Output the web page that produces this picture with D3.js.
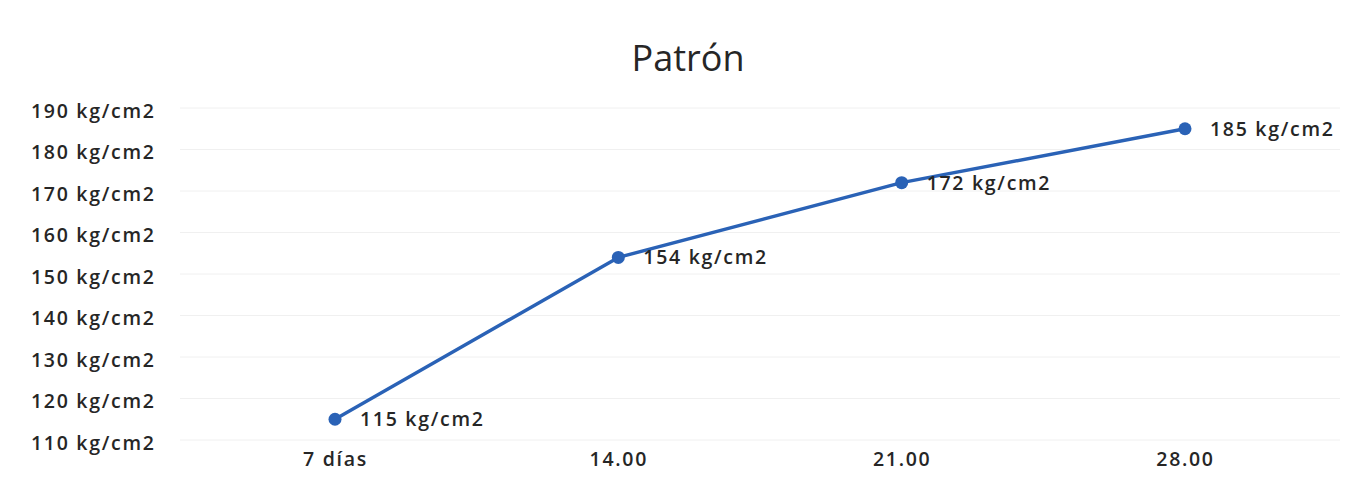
<!DOCTYPE html>
<html>
<head>
<meta charset="utf-8">
<script src="https://cdn.jsdelivr.net/npm/d3@7"></script>
<style>
  html, body { margin: 0; padding: 0; background: #ffffff; }
  svg { display: block; }
</style>
</head>
<body>
<svg id="chart" width="1348" height="485"></svg>
<script>
// Compressive strength of the reference ("Patrón") mix by curing age
const categories = ["7 días", "14.00", "21.00", "28.00"];
const strengths = [115, 154, 172, 185];
const yTicks = [110, 120, 130, 140, 150, 160, 170, 180, 190];
const unit = "kg/cm2";

const svg = d3.select("#chart");

const x = d3.scalePoint().domain(categories).range([335, 1185]);
const y = d3.scaleLinear().domain([110, 190]).range([440, 108]);

const font = "'Open Sans', 'Noto Sans', sans-serif";
const labelStyle = sel => sel
  .attr("font-family", font)
  .attr("font-size", 19.5)
  .attr("font-weight", 600)
  .attr("letter-spacing", 1.7)
  .attr("fill", "#262626");

// Title
svg.append("text")
  .attr("x", 688).attr("y", 71)
  .attr("text-anchor", "middle")
  .attr("font-family", font)
  .attr("font-size", 36)
  .attr("fill", "#262626")
  .text("Patrón");

// Horizontal gridlines
svg.append("g")
  .selectAll("line")
  .data(yTicks)
  .join("line")
  .attr("x1", 180).attr("x2", 1340)
  .attr("y1", d => y(d)).attr("y2", d => y(d))
  .attr("stroke", "#f0f0f0")
  .attr("stroke-width", 1);

// Y axis labels (left-aligned block)
const yAxis = d3.axisLeft(y).tickValues(yTicks).tickSize(0).tickPadding(0)
  .tickFormat(d => `${d} ${unit}`);
const gy = svg.append("g").attr("transform", "translate(31,3)").call(yAxis);
gy.select(".domain").remove();
gy.selectAll("text").attr("text-anchor", "start").call(labelStyle);

// X axis labels
const xAxis = d3.axisBottom(x).tickSize(0).tickPadding(0);
const gx = svg.append("g").attr("transform", "translate(0,452)").call(xAxis);
gx.select(".domain").remove();
gx.selectAll("text").call(labelStyle);

// Series line
const line = d3.line()
  .x((d, i) => x(categories[i]))
  .y(d => y(d));

svg.append("path")
  .datum(strengths)
  .attr("d", line)
  .attr("fill", "none")
  .attr("stroke", "#2a62b6")
  .attr("stroke-width", 3.4)
  .attr("stroke-linejoin", "round");

// Markers
svg.append("g")
  .selectAll("circle")
  .data(strengths)
  .join("circle")
  .attr("cx", (d, i) => x(categories[i]))
  .attr("cy", d => y(d))
  .attr("r", 6.5)
  .attr("fill", "#2a62b6");

// Data labels
svg.append("g")
  .selectAll("text")
  .data(strengths)
  .join("text")
  .attr("x", (d, i) => x(categories[i]) + 25)
  .attr("y", d => y(d))
  .attr("dy", "0.35em")
  .call(labelStyle)
  .text(d => `${d} ${unit}`);
</script>
</body>
</html>
